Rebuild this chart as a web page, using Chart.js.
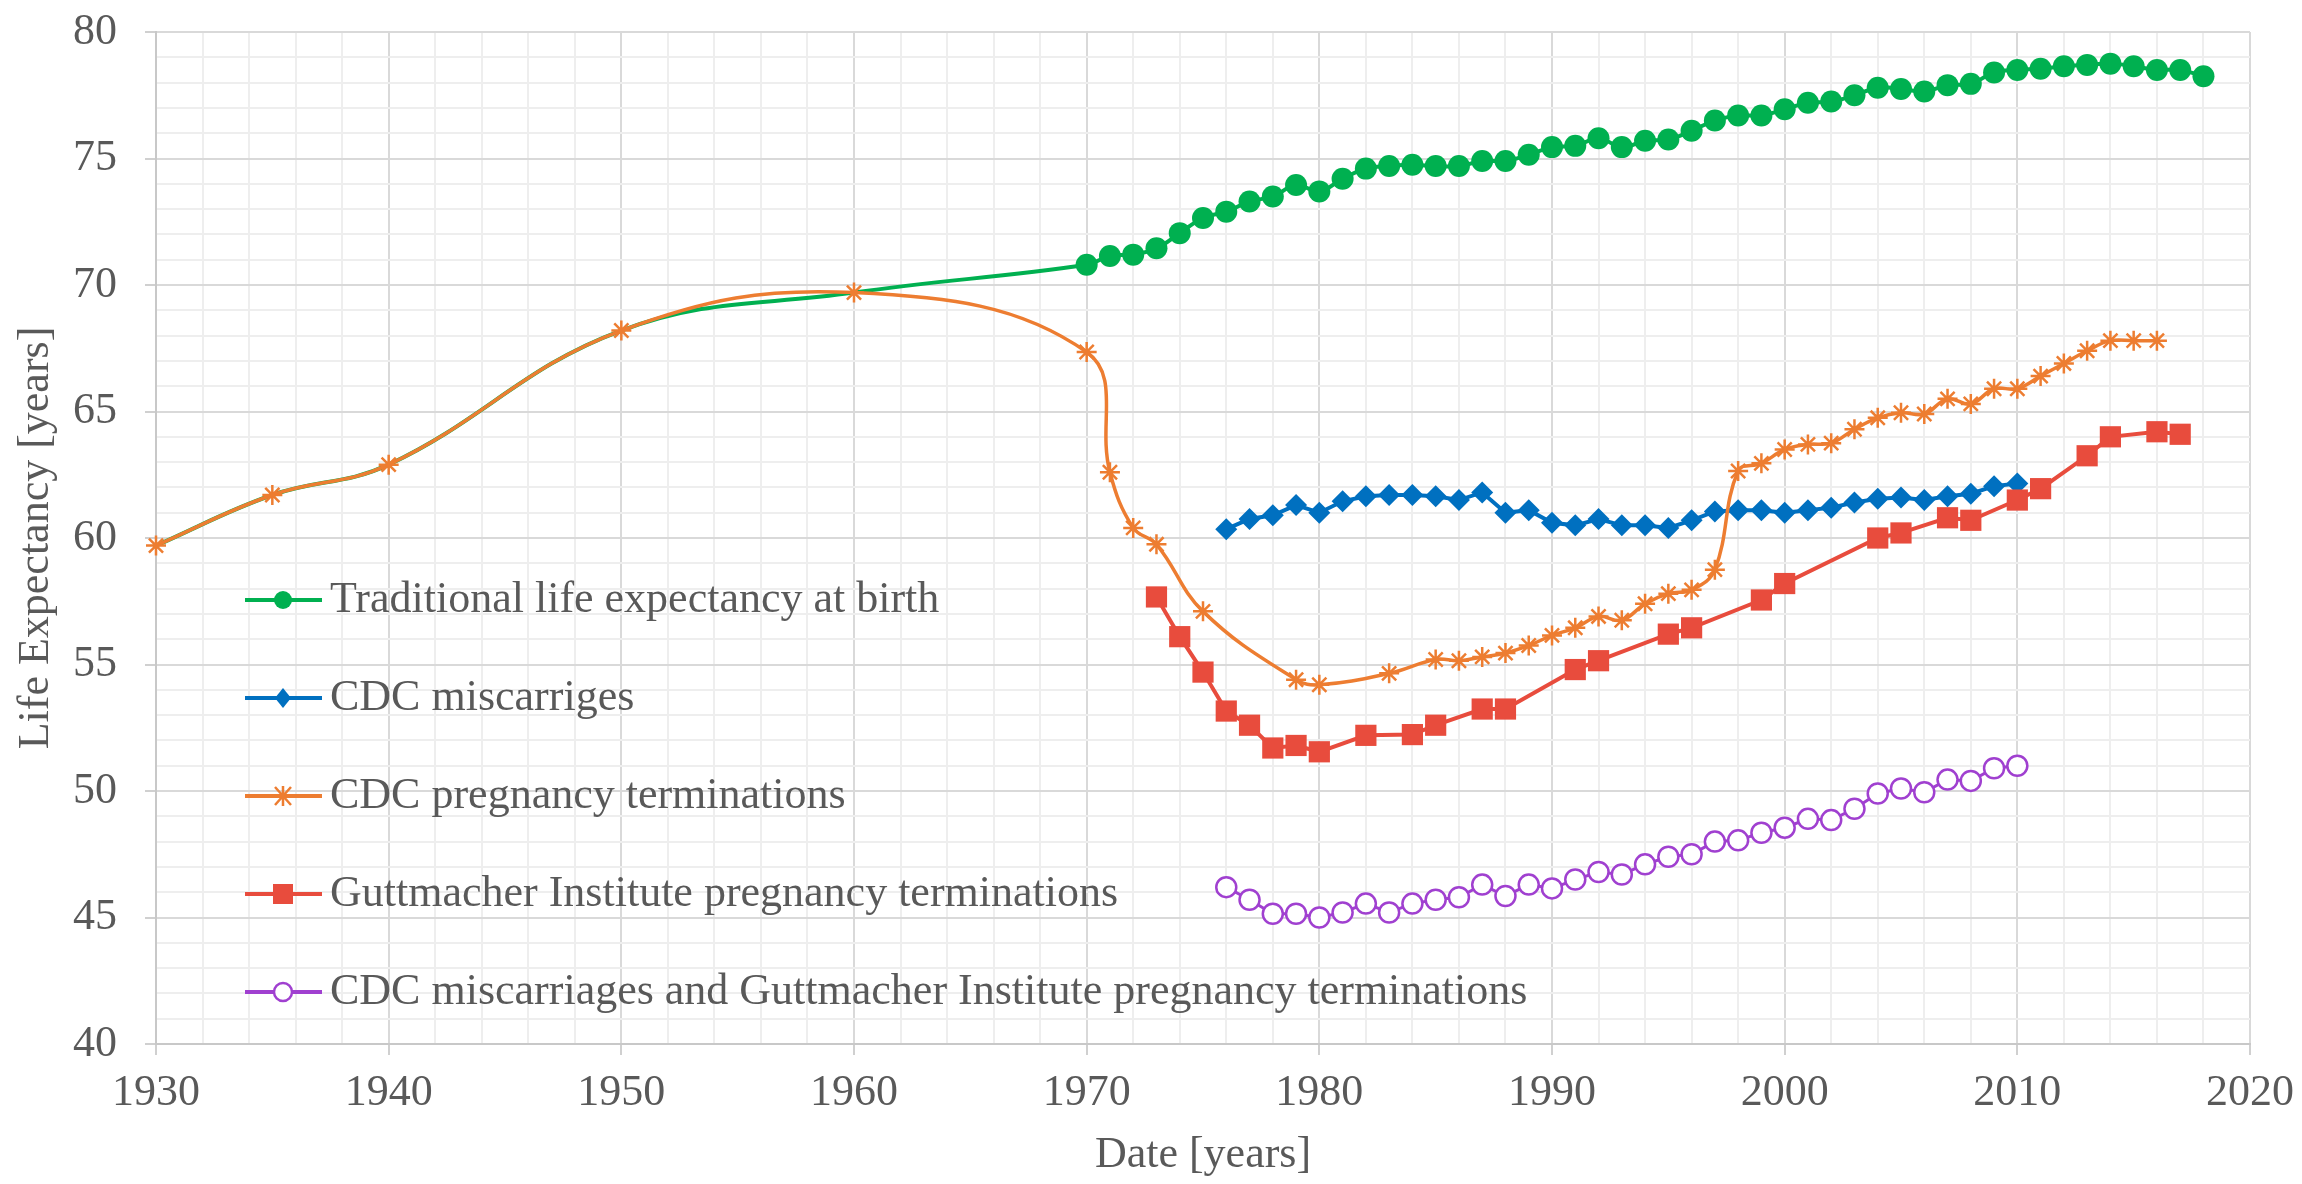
<!DOCTYPE html>
<html>
<head>
<meta charset="utf-8">
<script src="https://cdn.jsdelivr.net/npm/chart.js@4.4.1/dist/chart.umd.min.js"></script>
<style>
  body { margin: 0; background: #fff; }
  canvas { display: block; }
</style>
</head>
<body>
<canvas id="lifeChart" width="2302" height="1184"></canvas>
<script>
// Traditional life expectancy at birth
const tradYears = [1930, 1935, 1940, 1950, 1960, 1970, 1971, 1972, 1973, 1974, 1975, 1976, 1977, 1978, 1979,
    1980, 1981, 1982, 1983, 1984, 1985, 1986, 1987, 1988, 1989, 1990, 1991, 1992, 1993, 1994, 1995, 1996,
    1997, 1998, 1999, 2000, 2001, 2002, 2003, 2004, 2005, 2006, 2007, 2008, 2009, 2010, 2011, 2012, 2013,
    2014, 2015, 2016, 2017, 2018];
const tradValues = [59.7, 61.7, 62.9, 68.2, 69.7, 70.8, 71.15, 71.2, 71.45, 72.05, 72.65, 72.9, 73.3, 73.5, 73.95,
    73.7, 74.2, 74.6, 74.7, 74.75, 74.7, 74.7, 74.9, 74.9, 75.15, 75.45, 75.5, 75.8, 75.45, 75.7, 75.75, 76.1,
    76.5, 76.7, 76.7, 76.95, 77.2, 77.25, 77.5, 77.8, 77.75, 77.65, 77.9, 77.95, 78.4, 78.5, 78.55, 78.65, 78.7,
    78.75, 78.65, 78.5, 78.5, 78.25];

// CDC miscarriges
const miscYears = [1976, 1977, 1978, 1979, 1980, 1981, 1982, 1983, 1984, 1985, 1986, 1987, 1988, 1989, 1990,
    1991, 1992, 1993, 1994, 1995, 1996, 1997, 1998, 1999, 2000, 2001, 2002, 2003, 2004, 2005, 2006, 2007,
    2008, 2009, 2010];
const miscValues = [60.35, 60.75, 60.9, 61.3, 61.0, 61.45, 61.65, 61.7, 61.7, 61.65, 61.5, 61.8, 61.0, 61.1, 60.6,
    60.5, 60.75, 60.5, 60.5, 60.4, 60.7, 61.05, 61.1, 61.1, 61.0, 61.1, 61.2, 61.4, 61.55, 61.6, 61.5, 61.65,
    61.75, 62.05, 62.15];

// CDC pregnancy terminations
const cdcTermYears = [1930, 1935, 1940, 1950, 1960, 1970, 1971, 1972, 1973, 1975, 1979, 1980, 1983, 1985, 1986,
    1987, 1988, 1989, 1990, 1991, 1992, 1993, 1994, 1995, 1996, 1997, 1998, 1999, 2000, 2001, 2002, 2003,
    2004, 2005, 2006, 2007, 2008, 2009, 2010, 2011, 2012, 2013, 2014, 2015, 2016];
const cdcTermValues = [59.7, 61.7, 62.9, 68.2, 69.7, 67.35, 62.6, 60.4, 59.75, 57.1, 54.4, 54.2, 54.65, 55.2, 55.15,
    55.3, 55.45, 55.75, 56.15, 56.45, 56.9, 56.75, 57.4, 57.8, 57.95, 58.75, 62.65, 62.95, 63.5, 63.7, 63.75, 64.3,
    64.75, 64.95, 64.9, 65.5, 65.3, 65.9, 65.9, 66.4, 66.9, 67.4, 67.8, 67.8, 67.8];

// Guttmacher Institute pregnancy terminations
const guttYears = [1973, 1974, 1975, 1976, 1977, 1978, 1979, 1980, 1982, 1984, 1985, 1987, 1988, 1991, 1992,
    1995, 1996, 1999, 2000, 2004, 2005, 2007, 2008, 2010, 2011, 2013, 2014, 2016, 2017];
const guttValues = [57.67, 56.1, 54.7, 53.16, 52.6, 51.7, 51.8, 51.55, 52.2, 52.23, 52.6, 53.24, 53.24, 54.8, 55.15,
    56.2, 56.45, 57.55, 58.2, 60.0, 60.2, 60.8, 60.7, 61.5, 61.95, 63.25, 64.0, 64.2, 64.1];

// CDC miscarriages and Guttmacher Institute pregnancy terminations
const bothYears = [1976, 1977, 1978, 1979, 1980, 1981, 1982, 1983, 1984, 1985, 1986, 1987, 1988, 1989, 1990,
    1991, 1992, 1993, 1994, 1995, 1996, 1997, 1998, 1999, 2000, 2001, 2002, 2003, 2004, 2005, 2006, 2007,
    2008, 2009, 2010];
const bothValues = [46.2, 45.7, 45.15, 45.15, 45.0, 45.2, 45.55, 45.2, 45.55, 45.7, 45.8, 46.3, 45.85, 46.3, 46.15,
    46.5, 46.8, 46.7, 47.1, 47.4, 47.5, 48.0, 48.05, 48.35, 48.55, 48.9, 48.85, 49.3, 49.9, 50.1, 49.95, 50.45,
    50.4, 50.9, 51.0];

const seriesLabels = [
    'Traditional life expectancy at birth',
    'CDC miscarriges',
    'CDC pregnancy terminations',
    'Guttmacher Institute pregnancy terminations',
    'CDC miscarriages and Guttmacher Institute pregnancy terminations'
];

const toPoints = (xs, ys) => xs.map((x, i) => ({ x: x, y: ys[i] }));

const textColor = '#595959';
const fontFamily = '"Liberation Serif", "Times New Roman", serif';

// legend drawn inside plot area
const legendInside = {
    id: 'legendInside',
    afterDraw(chart) {
        const ctx = chart.ctx;
        ctx.save();
        chart.data.datasets.forEach((ds, i) => {
            const y = 600 + i * 98;
            ctx.strokeStyle = ds.borderColor;
            ctx.lineWidth = 4;
            ctx.beginPath();
            ctx.moveTo(245, y);
            ctx.lineTo(322, y);
            ctx.stroke();
            drawMarker(ctx, ds.legendStyle, 283, y, ds.borderColor);
            ctx.fillStyle = textColor;
            ctx.font = '44px ' + fontFamily;
            ctx.textBaseline = 'middle';
            ctx.textAlign = 'left';
            ctx.fillText(ds.label, 330, y);
        });
        ctx.restore();
    }
};

function drawMarker(ctx, style, x, y, color) {
    ctx.fillStyle = color;
    ctx.strokeStyle = color;
    ctx.beginPath();
    if (style === 'circle') {
        ctx.arc(x, y, 9, 0, Math.PI * 2);
        ctx.fill();
    } else if (style === 'diamond') {
        ctx.moveTo(x, y - 10);
        ctx.lineTo(x + 8, y);
        ctx.lineTo(x, y + 10);
        ctx.lineTo(x - 8, y);
        ctx.closePath();
        ctx.fill();
    } else if (style === 'star') {
        ctx.lineWidth = 2.5;
        ctx.moveTo(x - 8, y - 9); ctx.lineTo(x + 8, y + 9);
        ctx.moveTo(x + 8, y - 9); ctx.lineTo(x - 8, y + 9);
        ctx.moveTo(x, y - 10); ctx.lineTo(x, y + 10);
        ctx.stroke();
    } else if (style === 'square') {
        ctx.rect(x - 10, y - 10, 20, 20);
        ctx.fill();
    } else if (style === 'ring') {
        ctx.fillStyle = '#fff';
        ctx.lineWidth = 2.5;
        ctx.arc(x, y, 9, 0, Math.PI * 2);
        ctx.fill();
        ctx.stroke();
    }
}

const gridColor = (ctx, step) => (ctx.tick && ctx.tick.value % step === 0) ? '#d9d9d9' : '#eeeeee';
const tickMarkColor = (ctx, step) => (ctx.tick && ctx.tick.value % step === 0) ? '#d0d0d0' : 'rgba(0,0,0,0)';

const chart = new Chart(document.getElementById('lifeChart'), {
    type: 'line',
    data: {
        datasets: [
            {
                label: seriesLabels[0],
                data: toPoints(tradYears, tradValues),
                borderColor: '#00b050',
                backgroundColor: '#00b050',
                borderWidth: 4,
                pointStyle: 'circle',
                pointRadius: c => (c.raw && c.raw.x < 1970) ? 0 : 11,
                pointBorderWidth: 0,
                tension: 0.4,
                legendStyle: 'circle',
                order: 5
            },
            {
                label: seriesLabels[1],
                data: toPoints(miscYears, miscValues),
                borderColor: '#0070c0',
                backgroundColor: '#0070c0',
                borderWidth: 4,
                pointStyle: 'rectRot',
                pointRadius: 11,
                pointBorderWidth: 0,
                tension: 0,
                legendStyle: 'diamond',
                order: 3
            },
            {
                label: seriesLabels[2],
                data: toPoints(cdcTermYears, cdcTermValues),
                borderColor: '#ed7d31',
                backgroundColor: '#ed7d31',
                borderWidth: 3.5,
                pointStyle: 'star',
                pointRadius: 10,
                pointBorderWidth: 2.5,
                tension: 0.4,
                legendStyle: 'star',
                order: 1
            },
            {
                label: seriesLabels[3],
                data: toPoints(guttYears, guttValues),
                borderColor: '#e84c3d',
                backgroundColor: '#e84c3d',
                borderWidth: 4,
                pointStyle: 'rect',
                pointRadius: 15,
                pointBorderWidth: 0,
                tension: 0,
                legendStyle: 'square',
                order: 2
            },
            {
                label: seriesLabels[4],
                data: toPoints(bothYears, bothValues),
                borderColor: '#a040d0',
                backgroundColor: '#ffffff',
                borderWidth: 3,
                pointStyle: 'circle',
                pointRadius: 10,
                pointBorderWidth: 2.5,
                pointBackgroundColor: '#ffffff',
                tension: 0,
                legendStyle: 'ring',
                order: 4
            }
        ]
    },
    options: {
        responsive: false,
        animation: false,
        clip: false,
        layout: { padding: { left: 0, right: 52, top: 32, bottom: 0 } },
        plugins: {
            legend: { display: false },
            tooltip: { enabled: false }
        },
        scales: {
            x: {
                type: 'linear',
                min: 1930,
                max: 2020,
                afterFit: s => { s.height = 140; s.paddingLeft = 0; s.paddingRight = 0; },
                ticks: {
                    stepSize: 2,
                    autoSkip: false,
                    maxRotation: 0,
                    padding: 12,
                    color: textColor,
                    font: { family: fontFamily, size: 44 },
                    callback: v => (v % 10 === 0 ? String(v) : '')
                },
                grid: {
                    color: c => gridColor(c, 10),
                    tickColor: c => tickMarkColor(c, 10),
                    lineWidth: 2,
                    tickLength: 11
                },
                border: { color: '#c8c8c8', width: 2 },
                title: {
                    display: true,
                    text: 'Date [years]',
                    color: textColor,
                    font: { family: fontFamily, size: 44 },
                    padding: { top: 0, bottom: 2 }
                }
            },
            y: {
                min: 40,
                max: 80,
                afterFit: s => { s.width = 156; s.paddingTop = 0; s.paddingBottom = 0; },
                ticks: {
                    stepSize: 1,
                    autoSkip: false,
                    padding: 28,
                    color: textColor,
                    font: { family: fontFamily, size: 44 },
                    callback: v => (v % 5 === 0 ? String(v) : '')
                },
                grid: {
                    color: c => gridColor(c, 5),
                    tickColor: c => tickMarkColor(c, 5),
                    lineWidth: 2,
                    tickLength: 11
                },
                border: { color: '#c8c8c8', width: 2 },
                title: {
                    display: true,
                    text: 'Life Expectancy [years]',
                    color: textColor,
                    font: { family: fontFamily, size: 44 },
                    padding: { top: 10, bottom: 0 }
                }
            }
        }
    },
    plugins: [legendInside]
});
</script>
</body>
</html>
